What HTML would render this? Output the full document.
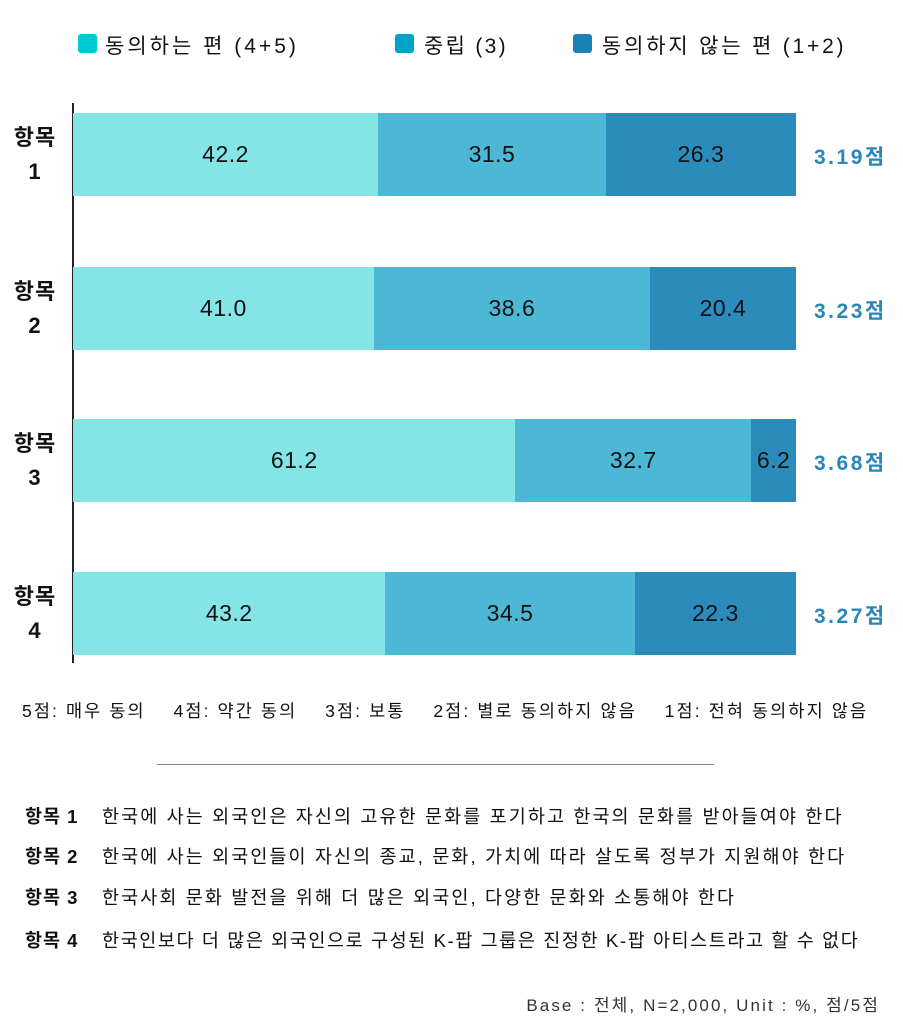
<!DOCTYPE html>
<html><head><meta charset="utf-8"><style>
body{margin:0;width:903px;height:1024px;background:#fff;font-family:"Liberation Sans","Noto Sans CJK KR",sans-serif;color:#111;position:relative;overflow:hidden}
.a{position:absolute;white-space:nowrap}
.sq{position:absolute;width:19px;height:19px;border-radius:3px}
.bar{position:absolute;left:73px;width:723px;height:83px;display:flex}
.bar div{height:100%;display:flex;align-items:center;justify-content:center;font-size:23px;color:#111;letter-spacing:0.5px}
.c1{background:#84e4e6}.c2{background:#4db8d5}.c3{background:#2b8cbb}
.yl{position:absolute;left:7px;width:56px;text-align:center;font-weight:bold;font-size:22px;line-height:34px;letter-spacing:1px}
.sc{position:absolute;left:814px;font-weight:bold;font-size:21px;color:#2a86b8;letter-spacing:2.5px}
.n{position:absolute;left:25px;font-size:18.5px;letter-spacing:2.1px}
.n b{display:inline-block;width:77px;letter-spacing:1px}
</style></head><body>
<div class="sq" style="left:78px;top:34px;background:#00c9d1"></div><div class="a" style="left:105px;top:30px;font-size:21px;letter-spacing:3px">동의하는 편 (4+5)</div>
<div class="sq" style="left:395px;top:34px;background:#00a3c8"></div><div class="a" style="left:424px;top:30px;font-size:21px;letter-spacing:2.3px">중립 (3)</div>
<div class="sq" style="left:573px;top:34px;background:#1a82b6"></div><div class="a" style="left:602px;top:30px;font-size:21px;letter-spacing:2.8px">동의하지 않는 편 (1+2)</div>
<div class="a" style="left:72px;top:103px;width:2px;height:560px;background:#222"></div>
<div class="bar" style="top:113px"><div class="c1" style="width:42.2%">42.2</div><div class="c2" style="width:31.5%">31.5</div><div class="c3" style="width:26.3%">26.3</div></div>
<div class="bar" style="top:267px"><div class="c1" style="width:41.6%">41.0</div><div class="c2" style="width:38.2%">38.6</div><div class="c3" style="width:20.2%">20.4</div></div>
<div class="bar" style="top:419px"><div class="c1" style="width:61.2%">61.2</div><div class="c2" style="width:32.6%">32.7</div><div class="c3" style="width:6.2%">6.2</div></div>
<div class="bar" style="top:572px"><div class="c1" style="width:43.2%">43.2</div><div class="c2" style="width:34.5%">34.5</div><div class="c3" style="width:22.3%">22.3</div></div>
<div class="yl" style="top:121px">항목<br>1</div>
<div class="yl" style="top:275px">항목<br>2</div>
<div class="yl" style="top:427px">항목<br>3</div>
<div class="yl" style="top:580px">항목<br>4</div>
<div class="sc" style="top:141px">3.19점</div>
<div class="sc" style="top:295px">3.23점</div>
<div class="sc" style="top:447px">3.68점</div>
<div class="sc" style="top:600px">3.27점</div>
<div class="a" style="left:22px;top:698px;font-size:17.5px;letter-spacing:2.1px">5점: 매우 동의&nbsp;&nbsp;&nbsp;&nbsp;4점: 약간 동의&nbsp;&nbsp;&nbsp;&nbsp;3점: 보통&nbsp;&nbsp;&nbsp;&nbsp;2점: 별로 동의하지 않음&nbsp;&nbsp;&nbsp;&nbsp;1점: 전혀 동의하지 않음</div>
<div class="a" style="left:157px;top:764px;width:557px;height:1px;background:#888"></div>
<div class="n" style="top:803px"><b>항목 1</b>한국에 사는 외국인은 자신의 고유한 문화를 포기하고 한국의 문화를 받아들여야 한다</div>
<div class="n" style="top:843px"><b>항목 2</b>한국에 사는 외국인들이 자신의 종교, 문화, 가치에 따라 살도록 정부가 지원해야 한다</div>
<div class="n" style="top:884px"><b>항목 3</b>한국사회 문화 발전을 위해 더 많은 외국인, 다양한 문화와 소통해야 한다</div>
<div class="n" style="top:927px;letter-spacing:1.6px"><b>항목 4</b>한국인보다 더 많은 외국인으로 구성된 K-팝 그룹은 진정한 K-팝 아티스트라고 할 수 없다</div>
<div class="a" style="right:23px;top:991px;font-size:17px;color:#333;letter-spacing:2.1px">Base : 전체, N=2,000, Unit : %, 점/5점</div>
</body></html>
